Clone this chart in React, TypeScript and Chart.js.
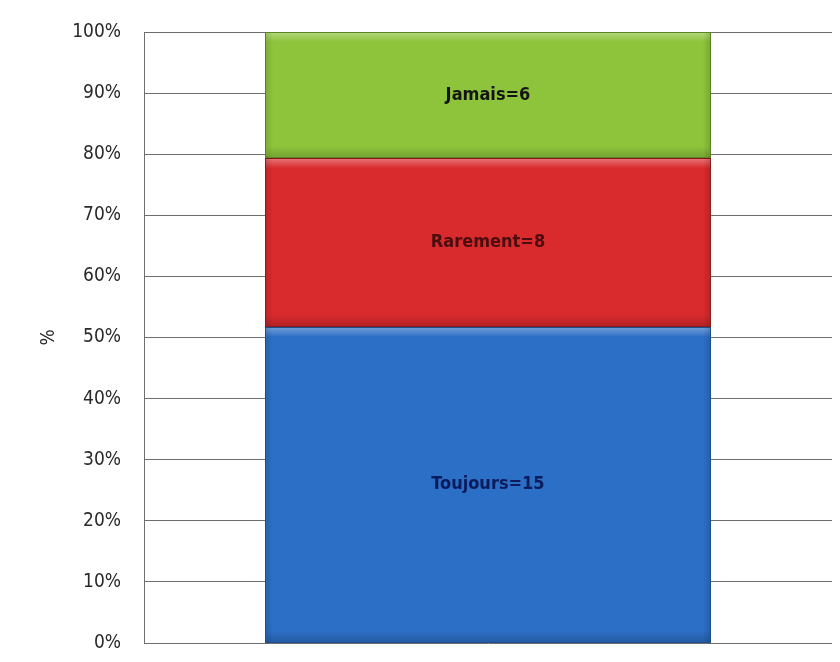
import React, { useEffect, useRef } from "react";
import { Chart, registerables } from "chart.js";

Chart.register(...registerables);

const categories = [""];
const seriesNames = ["Toujours", "Rarement", "Jamais"];
const toujours = [15];
const rarement = [8];
const jamais = [6];
const yTicks = [0, 10, 20, 30, 40, 50, 60, 70, 80, 90, 100];

const colors = ["#2c6fc6", "#d92a2d", "#8dc43b"];
const borders = ["#1d4f8f", "#8c1c1c", "#5a8422"];
const labelColors = ["#0b1b5c", "#4a0e0e", "#141414"];

const FONT = "'DejaVu Sans Condensed', 'Liberation Sans Narrow', 'Liberation Sans', sans-serif";

const bevelPlugin = {
  id: "bevel",
  afterDatasetsDraw(chart: any) {
    const ctx = chart.ctx;
    ctx.save();
    chart.data.datasets.forEach((ds: any, i: number) => {
      const meta = chart.getDatasetMeta(i);
      meta.data.forEach((bar: any, j: number) => {
        const l = bar.x - bar.width / 2;
        const r = bar.x + bar.width / 2;
        const t = Math.min(bar.y, bar.base);
        const b = Math.max(bar.y, bar.base);
        // top highlight
        let g = ctx.createLinearGradient(0, t, 0, t + 10);
        g.addColorStop(0, "rgba(255,255,255,0.35)");
        g.addColorStop(1, "rgba(255,255,255,0)");
        ctx.fillStyle = g;
        ctx.fillRect(l, t, r - l, 10);
        // bottom shade
        g = ctx.createLinearGradient(0, b - 12, 0, b);
        g.addColorStop(0, "rgba(0,0,0,0)");
        g.addColorStop(1, "rgba(0,0,0,0.18)");
        ctx.fillStyle = g;
        ctx.fillRect(l, b - 12, r - l, 12);
        // side shades
        g = ctx.createLinearGradient(l, 0, l + 8, 0);
        g.addColorStop(0, "rgba(0,0,0,0.12)");
        g.addColorStop(1, "rgba(0,0,0,0)");
        ctx.fillStyle = g;
        ctx.fillRect(l, t, 8, b - t);
        g = ctx.createLinearGradient(r - 8, 0, r, 0);
        g.addColorStop(0, "rgba(0,0,0,0)");
        g.addColorStop(1, "rgba(0,0,0,0.15)");
        ctx.fillStyle = g;
        ctx.fillRect(r - 8, t, 8, b - t);
        ctx.strokeStyle = borders[i];
        ctx.lineWidth = 1;
        ctx.strokeRect(Math.round(l) + 0.5, Math.round(t) + 0.5, Math.round(r - l) - 1, Math.round(b - t) - 1);
      });
    });
    ctx.restore();
  },
};

const labelPlugin = {
  id: "segLabels",
  afterDatasetsDraw(chart: any) {
    const ctx = chart.ctx;
    ctx.save();
    ctx.font = `bold 18px ${FONT}`;
    ctx.textAlign = "center";
    ctx.textBaseline = "middle";
    chart.data.datasets.forEach((ds: any, i: number) => {
      const meta = chart.getDatasetMeta(i);
      meta.data.forEach((bar: any, j: number) => {
        const cy = (bar.y + bar.base) / 2;
        ctx.fillStyle = labelColors[i];
        ctx.fillText(`${ds.label}=${ds.counts[j]}`, bar.x, cy);
      });
    });
    ctx.restore();
  },
};

export default function App() {
  const ref = useRef<HTMLCanvasElement>(null);
  useEffect(() => {
    const counts = [toujours, rarement, jamais];
    const totals = categories.map((_, j) => counts.reduce((s, c) => s + c[j], 0));
    const chart = new Chart(ref.current!, {
      type: "bar",
      data: {
        labels: categories,
        datasets: counts.map((c, i) => ({
          label: seriesNames[i],
          counts: c,
          data: c.map((v, j) => (v / totals[j]) * 100),
          backgroundColor: colors[i],
          borderWidth: 0,
          categoryPercentage: 1,
          barPercentage: 0.648,
        })) as any,
      },
      options: {
        animation: false,
        responsive: true,
        maintainAspectRatio: false,
        layout: { padding: { left: 0, top: 32, right: 8, bottom: 19 } },
        plugins: { legend: { display: false }, tooltip: { enabled: false } },
        scales: {
          x: { stacked: true, display: false },
          y: {
            stacked: true,
            min: 0,
            max: 100,
            afterBuildTicks: (scale: any) => {
              scale.ticks = yTicks.map((v) => ({ value: v }));
            },
            afterFit: (scale: any) => {
              scale.width = 144;
            },
            ticks: {
              callback: (v: any) => `${v}%`,
              font: { size: 19, family: FONT },
              color: "#2a2a2a",
              padding: 0,
            },
            grid: { color: "#6e6e6e", drawTicks: true, tickLength: 23, tickColor: "rgba(0,0,0,0)", lineWidth: 1 },
            border: { display: true, color: "#6e6e6e" },
            title: {
              display: true,
              text: "%",
              font: { size: 19, family: FONT },
              color: "#2a2a2a",
              padding: { top: 38, bottom: 0 },
            },
          },
        },
      },
      plugins: [bevelPlugin, labelPlugin],
    });
    return () => chart.destroy();
  }, []);
  return (
    <div style={{ position: "fixed", left: 0, top: 0, width: 840, height: 662, background: "#fff" }}>
      <canvas ref={ref} />
    </div>
  );
}
